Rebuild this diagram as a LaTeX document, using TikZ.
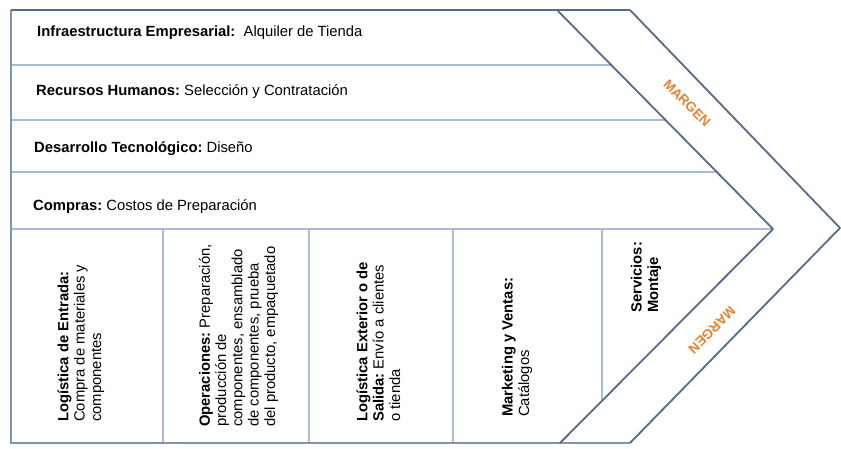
\documentclass[tikz,border=0pt]{standalone}
\usepackage{fontspec}
\setmainfont{Liberation Sans}
\frenchspacing
\definecolor{frameC}{HTML}{7F94B3}
\definecolor{chevC}{HTML}{566B89}
\definecolor{sepC}{HTML}{AABCD5}
\definecolor{margC}{HTML}{E4822F}
\begin{document}
\begin{tikzpicture}[x=1pt,y=-1pt,
  hrow/.style={anchor=base west, inner sep=0pt, font=\fontsize{14.8}{17}\selectfont\frenchspacing},
  vtext/.style={rotate=90, anchor=base west, inner sep=0pt, align=left, font=\fontsize{14.8}{16.3}\selectfont\frenchspacing},
  margen/.style={text=margC, font=\fontsize{13.5}{15}\selectfont\bfseries, inner sep=0pt},
  sepline/.style={draw=sepC, line width=2.3pt},
  frameline/.style={draw=frameC, line width=2.2pt},
  chev/.style={draw=chevC, line width=1.8pt, line join=round}]
\useasboundingbox (0,0) rectangle (841,448);
\fill[white] (0,0) rectangle (841,448);
% key points
\coordinate (TL) at (11,10);
\coordinate (BL) at (11,443);
\coordinate (iT) at (557,10);
\coordinate (iTip) at (773,229);
\coordinate (iB) at (560,443);
\coordinate (oT) at (630,10);
\coordinate (oTip) at (840,228);
\coordinate (oB) at (630,443);
% row separators
\coordinate (r1l) at (11,65);  \coordinate (r1r) at (611,65);
\coordinate (r2l) at (11,120); \coordinate (r2r) at (665.5,120);
\coordinate (r3l) at (11,172); \coordinate (r3r) at (716.8,172);
\coordinate (r4l) at (11,229);
\draw[sepline] (r1l) -- (r1r);
\draw[sepline] (r2l) -- (r2r);
\draw[sepline] (r3l) -- (r3r);
\draw[sepline] (r4l) -- (iTip);
% column separators
\coordinate (c1t) at (163,229); \coordinate (c1b) at (163,443);
\coordinate (c2t) at (309,229); \coordinate (c2b) at (309,443);
\coordinate (c3t) at (453,229); \coordinate (c3b) at (453,443);
\coordinate (c4t) at (602,229); \coordinate (c4b) at (602,400.8);
\draw[sepline] (c1t) -- (c1b);
\draw[sepline] (c2t) -- (c2b);
\draw[sepline] (c3t) -- (c3b);
\draw[sepline] (c4t) -- (c4b);
% frame
\draw[frameline] (TL) -- (BL) -- (oB);
\draw[chev, line width=2.4pt] (TL) -- (oT);
% chevrons
\draw[chev] (iT) -- (iTip) -- (iB);
\draw[chev] (oT) -- (oTip) -- (oB);
% texts
\node[hrow] (infra) at (37,36.7) {\textbf{Infraestructura Empresarial:}\ \ Alquiler de Tienda};
\node[hrow] (rrhh) at (36,95) {\textbf{Recursos Humanos:} Selección y Contratación};
\node[hrow] (tec) at (34,152) {\textbf{Desarrollo Tecnológico:} Diseño};
\node[hrow] (compras) at (33,210) {\textbf{Compras:} Costos de Preparación};
% anchor = baseline of the last line
\node[vtext] (logent) at (101,422) {\textbf{Logística de Entrada:}\\Compra de materiales y\\componentes};
\node[vtext] (oper) at (275,427) {\textbf{Operaciones:} Preparación,\\producción de\\componentes, ensamblado\\de componentes, prueba\\del producto, empaquetado};
\node[vtext] (logsal) at (400,422) {\textbf{Logística Exterior o de}\\\textbf{Salida:} Envío a clientes\\o tienda};
\node[vtext] (mkt) at (529,417) {\textbf{Marketing y Ventas:}\\Catálogos};
\node[vtext] (serv) at (658,313) {\textbf{Servicios:}\\\textbf{Montaje}};
\node[margen, rotate=-45] (m1) at (687,103) {MARGEN};
\node[margen, rotate=-135] (m2) at (712,330) {MARGEN};
\end{tikzpicture}
\end{document}
